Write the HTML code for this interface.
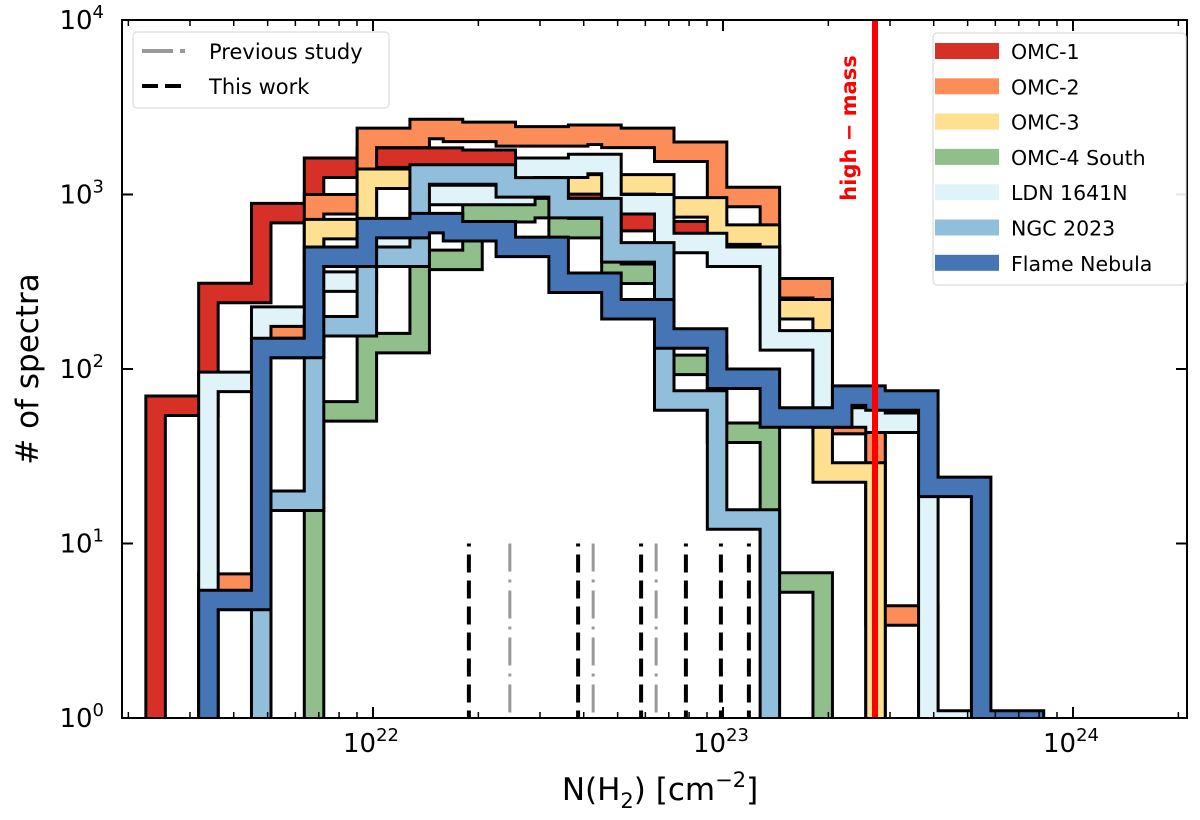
<!DOCTYPE html>
<html>
<head>
<meta charset="utf-8">
<style>
  html,body{margin:0;padding:0;background:#fff;}
  svg text{font-family:"DejaVu Sans","Liberation Sans",sans-serif;}
</style>
</head>
<body>
<svg id="chart" width="1200" height="815" viewBox="0 0 1200 815" xmlns="http://www.w3.org/2000/svg">
  <defs>
    <clipPath id="plotclip"><rect x="122" y="20" width="1065" height="698"/></clipPath>
  </defs>
  <rect x="0" y="0" width="1200" height="815" fill="#fff"/>
  <g id="series-layer" clip-path="url(#plotclip)"></g>
  <g id="vlines-layer" clip-path="url(#plotclip)"></g>
  <line x1="875" y1="20" x2="875" y2="718" stroke="#ff0000" stroke-width="6"/>
  <text transform="translate(856,128) rotate(-90)" text-anchor="middle" fill="#ff0000" font-size="21" font-weight="bold">high − mass</text>
  <g id="axes-layer"></g>

  <g>
    <rect x="133" y="32" width="256" height="76" rx="4" fill="#fff" fill-opacity="0.9" stroke="#ddd" stroke-width="1.2"/>
    <line x1="142" y1="51" x2="173" y2="51" stroke="#999" stroke-width="4"/>
    <line x1="180" y1="51" x2="185" y2="51" stroke="#999" stroke-width="4"/>
    <text x="209" y="59" font-size="21" fill="#000">Previous study</text>
    <line x1="142" y1="86" x2="185" y2="86" stroke="#000" stroke-width="4" stroke-dasharray="16,7"/>
    <text x="209" y="94" font-size="21" fill="#000">This work</text>
  </g>
  <g id="region-legend">
    <rect x="933" y="33" width="253" height="252" rx="4" fill="#fff" fill-opacity="0.9" stroke="#ddd" stroke-width="1.2"/>
  </g>
</svg>
<script>
// ---- data ----
const binStart = 21.351;      // log10 N of first bin edge
const binWidth = 0.1509;      // dex per bin
const seriesNames = ["OMC-1","OMC-2","OMC-3","OMC-4 South","LDN 1641N","NGC 2023","Flame Nebula"];
const seriesColors = ["#d73027","#fc8d59","#fee090","#91bf8b","#e0f3f8","#91bfdb","#4575b4"];
const omc1 =   [70,310,890,1620,1850,1850,1800,1500,1100,800,700,500,250,55,0,0,0,0];
const omc2 =   [0,6.7,176,1000,2400,2700,2600,2450,2500,2400,2000,1100,330,55,4.4,0,0,0];
const omc3 =   [0,0,150,720,1400,1400,1350,1300,1300,1300,960,670,250,29,0,0,0,0];
const omc4s =  [0,0,0,65,160,480,900,950,730,400,120,49,6.8,0,0,0,0,0];
const ldn1641n=[0,96,227,360,580,1130,1130,1620,1700,1000,600,500,166,60,56,1.1,0,0];
const ngc2023 =[0,0,20,200,500,1480,1480,1250,950,530,75,15.6,0,0,0,0,0,0];
const flame =  [0,5.4,150,500,730,780,700,570,355,250,170,100,60,80,75,24,1.1,0];
const thisWork = [22.274,22.586,22.766,22.894,22.994,23.074];
const previousStudy = [22.391,22.629,22.809];
const markerHeight = 10;
const yTicks = [0,1,2,3,4];
const xTicks = [22,23,24];

// ---- scales ----
const X0=122, X1=1187, Y0=20, Y1=718;
function xs(logN){ return 373 + 350*(logN-22); }
function ys(v){ return 718 - 174.5*Math.log10(v); }
const NS="http://www.w3.org/2000/svg";
function mk(tag, attrs, parent){
  const e=document.createElementNS(NS,tag);
  for(const k in attrs) e.setAttribute(k, attrs[k]);
  parent.appendChild(e); return e;
}

// ---- series ----
const allSeries=[omc1,omc2,omc3,omc4s,ldn1641n,ngc2023,flame];
const layer=document.getElementById('series-layer');
const defs=document.querySelector('defs');
const BASE=780;
allSeries.forEach((vals,si)=>{
  let first=-1,last=-1;
  vals.forEach((v,i)=>{ if(v>0){ if(first<0) first=i; last=i; } });
  if(first<0) return;
  let d="M"+xs(binStart+first*binWidth)+","+BASE;
  for(let i=first;i<=last;i++){
    const y = vals[i]>0 ? ys(vals[i]) : BASE;
    d+=" L"+xs(binStart+i*binWidth)+","+y+" L"+xs(binStart+(i+1)*binWidth)+","+y;
  }
  d+=" L"+xs(binStart+(last+1)*binWidth)+","+BASE+" Z";
  const cp=mk('clipPath',{id:'sc'+si},defs);
  mk('path',{d:d},cp);
  const g=mk('g',{},layer);
  
  
  const inner=mk('g',{'clip-path':'url(#sc'+si+')'},g);
  mk('path',{d:d,fill:'none',stroke:'#000','stroke-width':42,'stroke-linejoin':'miter'},inner);
  mk('path',{d:d,fill:'none',stroke:seriesColors[si],'stroke-width':36,'stroke-linejoin':'miter'},inner);
  const outline=mk('path',{d:d,fill:'none',stroke:'#000','stroke-width':3,'stroke-linejoin':'miter'},g);
  
  
});

// ---- vertical markers ----
const vl=document.getElementById('vlines-layer');
previousStudy.forEach(v=>{
  const l=mk('line',{x1:xs(v),x2:xs(v),y1:ys(markerHeight),y2:Y1,stroke:'#999','stroke-width':3,'stroke-dasharray':'28,8,3,8'},vl);
  
  
});
thisWork.forEach(v=>{
  const l=mk('line',{x1:xs(v),x2:xs(v),y1:ys(markerHeight),y2:Y1,stroke:'#000','stroke-width':4,'stroke-dasharray':'18,8','stroke-dashoffset':15},vl);
  
  
});

// ---- axes ----
const ax=document.getElementById('axes-layer');
yTicks.forEach(t=>{
  const y=ys(Math.pow(10,t));
  mk('line',{x1:X0,x2:X0+11,y1:y,y2:y,stroke:'#000','stroke-width':2},ax);
  mk('line',{x1:X1,x2:X1-11,y1:y,y2:y,stroke:'#000','stroke-width':2},ax);
  const tx=mk('text',{x:104,y:y+9,'text-anchor':'end','font-size':26},ax);
  
  
  tx.innerHTML='10<tspan dy="-11" font-size="18">'+t+'</tspan>';
});
for(let dec=21;dec<=24;dec++){
  for(let m=1;m<10;m++){
    const lv=dec+Math.log10(m);
    const x=xs(lv);
    if(x<X0||x>X1) continue;
    const len = m===1?11:6;
    mk('line',{x1:x,x2:x,y1:Y1,y2:Y1-len,stroke:'#000','stroke-width':m===1?2:1.5},ax);
    mk('line',{x1:x,x2:x,y1:Y0,y2:Y0+len,stroke:'#000','stroke-width':m===1?2:1.5},ax);
  }
}
xTicks.forEach(t=>{
  const tx=mk('text',{x:xs(t)-2,y:752,'text-anchor':'middle','font-size':26},ax);
  
  
  tx.innerHTML='10<tspan dy="-11" font-size="18">'+t+'</tspan>';
});
mk('rect',{x:X0,y:Y0,width:X1-X0,height:Y1-Y0,fill:'none',stroke:'#000','stroke-width':2},ax);
const xl=mk('text',{x:660,y:800,'text-anchor':'middle','font-size':31},ax);


xl.innerHTML='N(H<tspan dy="8" font-size="21">2</tspan><tspan dy="-8">) [cm</tspan><tspan dy="-13" font-size="21">−2</tspan><tspan dy="13">]</tspan>';
const yl=mk('text',{transform:'translate(38,369) rotate(-90)','text-anchor':'middle','font-size':31},ax);


yl.textContent='# of spectra';

// ---- region legend ----
const rl=document.getElementById('region-legend');
seriesNames.forEach((n,i)=>{
  const y=51+35.3*i;
  const r=mk('rect',{x:935,y:y-8,width:64,height:16,fill:seriesColors[i]},rl);
  
  
  const t=mk('text',{x:1011,y:y+8,'font-size':20.5},rl);
  
  
  t.textContent=n;
});
</script>
</body>
</html>
